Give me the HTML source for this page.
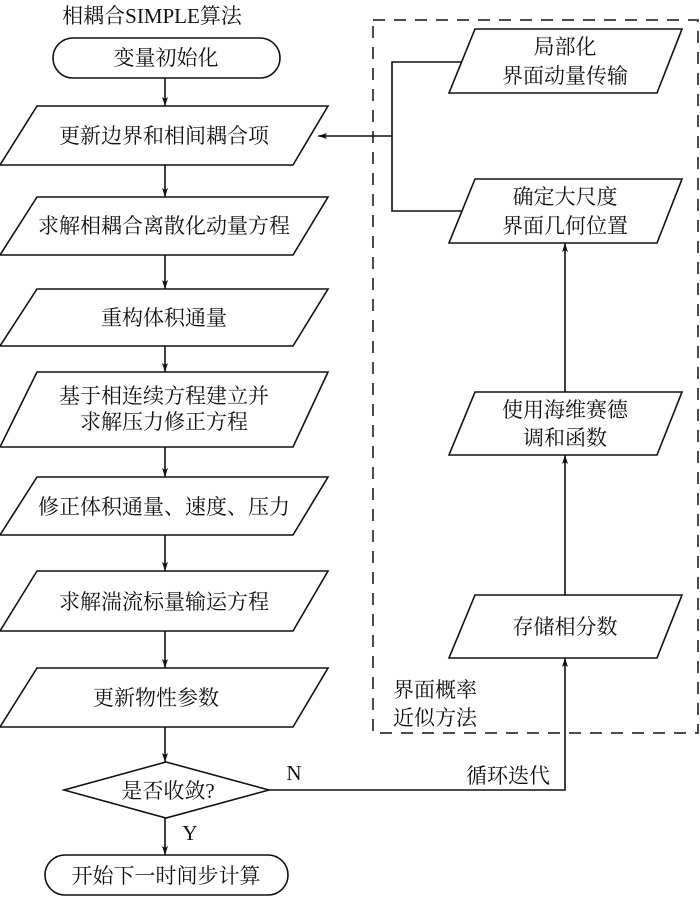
<!DOCTYPE html>
<html><head><meta charset="utf-8"><style>
html,body{margin:0;padding:0;background:#fff;}
svg text{font-family:"Liberation Serif","Noto Serif CJK SC","Noto Sans CJK SC",serif;fill:#111;}
</style></head><body>
<svg width="700" height="896" viewBox="0 0 700 896" xmlns="http://www.w3.org/2000/svg">
<defs><marker id="a" markerWidth="10" markerHeight="10" refX="9" refY="5" orient="auto" markerUnits="userSpaceOnUse"><path d="M0,2 L9,5 L0,8 L2,5z" fill="#111"/></marker></defs>
<g fill="none" stroke="#111" stroke-width="1.6">
<rect x="373" y="20" width="325" height="713" stroke-dasharray="12,9" stroke-width="1.5"/>
<rect x="53" y="38" width="227" height="40" rx="20"/>
<polygon points="37,106 328,106 293,165 0,165"/>
<polygon points="37,197 328,197 293,255 0,255"/>
<polygon points="37,289 328,289 293,346 0,346"/>
<polygon points="37,372 328,372 293,447 0,447"/>
<polygon points="37,477 328,477 293,535 0,535"/>
<polygon points="37,571 328,571 293,631 0,631"/>
<polygon points="37,668 328,668 293,727 0,727"/>
<polygon points="166,762 269,790 166,818 64,790"/>
<rect x="45" y="855" width="243" height="40" rx="20"/>
<polygon points="475,29 682,29 657,93 449,93"/>
<polygon points="475,179 682,179 657,243 449,243"/>
<polygon points="475,392 682,392 657,455 449,455"/>
<polygon points="475,595 682,595 657,658 449,658"/>
<line x1="165" y1="78" x2="165" y2="106" marker-end="url(#a)"/>
<line x1="165" y1="165" x2="165" y2="197" marker-end="url(#a)"/>
<line x1="165" y1="255" x2="165" y2="289" marker-end="url(#a)"/>
<line x1="165" y1="346" x2="165" y2="372" marker-end="url(#a)"/>
<line x1="165" y1="447" x2="165" y2="477" marker-end="url(#a)"/>
<line x1="165" y1="535" x2="165" y2="571" marker-end="url(#a)"/>
<line x1="165" y1="631" x2="165" y2="668" marker-end="url(#a)"/>
<line x1="165" y1="727" x2="165" y2="762" marker-end="url(#a)"/>
<line x1="165" y1="818" x2="165" y2="855" marker-end="url(#a)"/>
<polyline points="269,790 565,790 565,658" marker-end="url(#a)"/>
<line x1="565" y1="595" x2="565" y2="455" marker-end="url(#a)"/>
<line x1="565" y1="392" x2="565" y2="243" marker-end="url(#a)"/>
<polyline points="462,62 392,62 392,211 462,211"/>
<line x1="392" y1="136" x2="318" y2="136" marker-end="url(#a)"/>
</g>
<g font-size="21" text-anchor="middle">
<text x="152" y="23">相耦合SIMPLE算法</text>
<text x="166" y="65">变量初始化</text>
<text x="164" y="143">更新边界和相间耦合项</text>
<text x="164" y="233">求解相耦合离散化动量方程</text>
<text x="164" y="325">重构体积通量</text>
<text x="164" y="403">基于相连续方程建立并</text>
<text x="164" y="429">求解压力修正方程</text>
<text x="164" y="514">修正体积通量、速度、压力</text>
<text x="164" y="609">求解湍流标量输运方程</text>
<text x="150" y="705" text-anchor="start" dx="-57">更新物性参数</text>
<text x="168" y="798">是否收敛?</text>
<text x="166" y="883">开始下一时间步计算</text>
<text x="190" y="840">Y</text>
<text x="294" y="780">N</text>
<text x="508" y="783">循环迭代</text>
<text x="565" y="54">局部化</text>
<text x="565" y="83">界面动量传输</text>
<text x="565" y="204">确定大尺度</text>
<text x="565" y="233">界面几何位置</text>
<text x="565" y="417">使用海维赛德</text>
<text x="565" y="445">调和函数</text>
<text x="565" y="634">存储相分数</text>
<text x="393" y="697" text-anchor="start">界面概率</text>
<text x="393" y="725" text-anchor="start">近似方法</text>
</g>
</svg>
</body></html>
